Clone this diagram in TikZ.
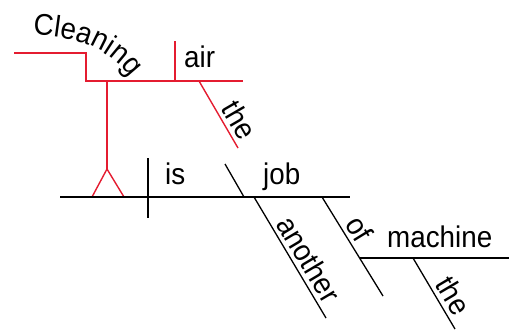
\documentclass[tikz,border=0pt]{standalone}
\usepackage{fontspec}
\setmainfont[FakeStretch=0.93]{Liberation Sans}
\usetikzlibrary{decorations.text}
\definecolor{diagred}{RGB}{228,28,48}
\begin{document}
\begin{tikzpicture}[x=1bp,y=-1bp,
  redline/.style={draw=diagred,line width=1.4bp},
  blackline/.style={draw=black,line width=1.3bp},
  word/.style={font=\fontsize{30}{34}\selectfont, inner sep=0pt},
  slword/.style={font=\fontsize{30}{34}\selectfont, sloped, anchor=south, inner xsep=0pt, inner ysep=4bp}]
\useasboundingbox (0,0) rectangle (511,330);
% red part (subject: gerund phrase on pedestal)
\coordinate (g1) at (14,53);
\coordinate (g2) at (86,53);
\coordinate (g3) at (86,81);
\coordinate (g4) at (243,81);
\coordinate (airtop) at (175,41);
\coordinate (airbot) at (175,81);
\coordinate (theAa) at (199,81);
\coordinate (theAb) at (238,148);
\coordinate (pedtop) at (107,81);
\coordinate (apex) at (107,169);
\coordinate (legl) at (92,197);
\coordinate (legr) at (124,197);
\draw[redline] (g1) -- (g2) -- (g3) -- (g4);
\draw[redline] (airtop) -- (airbot);
\draw[redline] (theAa) -- node[slword, pos=0.70] {the} (theAb);
\draw[redline] (pedtop) -- (apex);
\draw[redline] (legl) -- (apex) -- (legr);
\path[decorate, decoration={text along path, text align=left,
  text={|\fontsize{30}{34}\selectfont|Cleaning}}]
  (33,35) .. controls (76,36) and (106,48) .. (126,72);
\node[word, anchor=base west] (air) at (184,67) {air};
% black part
\coordinate (b1) at (60,197);
\coordinate (b2) at (350,197);
\coordinate (dvt) at (148,158);
\coordinate (dvb) at (148,218);
\coordinate (pna) at (225,164);
\coordinate (pnb) at (244,197);
\coordinate (ana) at (254,197);
\coordinate (anb) at (326,318);
\coordinate (ofa) at (322,197);
\coordinate (ofb) at (383,296);
\coordinate (ma) at (359.6,258);
\coordinate (mb) at (509,258);
\coordinate (theBa) at (413,258);
\coordinate (theBb) at (455,329);
\draw[blackline] (b1) -- (b2);
\draw[blackline] (dvt) -- (dvb);
\draw[blackline] (pna) -- (pnb);
\draw[blackline] (ana) -- node[slword, pos=0.58] {another} (anb);
\draw[blackline] (ofa) -- node[slword, pos=0.40] {of} (ofb);
\draw[blackline] (ma) -- (mb);
\draw[blackline] (theBa) -- node[slword, pos=0.64] {the} (theBb);
\node[word, anchor=base west] (is) at (165,184) {is};
\node[word, anchor=base west] (job) at (263,184) {job};
\node[word, anchor=base west] (machine) at (387,247) {machine};
\end{tikzpicture}
\end{document}
